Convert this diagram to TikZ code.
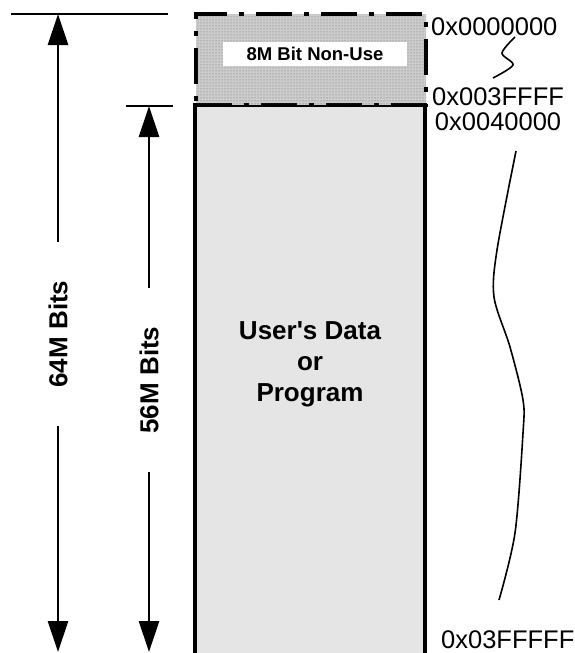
\documentclass[tikz,border=0pt]{standalone}
\usepackage{fontspec}
\setmainfont{Liberation Sans}
\usetikzlibrary{arrows.meta, positioning, patterns}

\begin{document}
\begin{tikzpicture}[
  x=1pt, y=-1pt,
  node distance=6pt,
  membox/.style={rectangle, draw=black, line width=3.5pt, fill=black!10, minimum width=230pt, inner sep=0pt},
  reserved/.style={rectangle, draw=black, line width=3.5pt, dash pattern=on 36pt off 12pt on 5pt off 12pt, fill=black!20, postaction={pattern=dots, pattern color=black!60}, minimum width=230pt, minimum height=91pt, inner sep=0pt},
  tag/.style={rectangle, fill=white, minimum width=184pt, minimum height=24pt, inner sep=0pt, font=\fontsize{18.5}{22}\selectfont\bfseries},
  bigtxt/.style={align=center, inner sep=0pt, font=\fontsize{26}{31}\selectfont\bfseries},
  sizelbl/.style={rotate=90, inner xsep=38.5pt, inner ysep=0pt, font=\fontsize{26}{30}\selectfont\bfseries},
  addr/.style={anchor=west, inner sep=0pt, font=\fontsize{25.5}{30}\selectfont},
  dim/.style={-{Triangle[width=20pt, length=31pt]}, line width=2.7pt},
  tick/.style={line width=2.7pt},
  wave/.style={line width=1.6pt}
]
\useasboundingbox (0,0) rectangle (574,653);

% memory blocks
\node[membox, minimum height=555pt] (user) at (310,382.5) {};
\node[reserved] (nonuse) at (311,59.5) {};
\node[tag] (nonusetag) at (315,54) {8M Bit Non-Use};
\node[bigtxt] (usertxt) at (310,364) {User\textquotesingle s Data\\or\\Program};

% size arrows
\draw[tick] (11,14) -- (168,14);
\draw[tick] (126,106) -- (173,106);
\coordinate (top64) at (58,14);
\coordinate (bot64) at (58,652);
\coordinate (top56) at (149,106);
\coordinate (bot56) at (149,652);
\node[sizelbl] (l64) at (58,334) {64M Bits};
\node[sizelbl] (l56) at (149,380) {56M Bits};
\draw[dim] (l64.east) -- (top64);
\draw[dim] (l64.west) -- (bot64);
\draw[dim] (l56.east) -- (top56);
\draw[dim] (l56.west) -- (bot56);

% addresses
\node[addr] (a0) at (431,27) {0x0000000};
\node[addr] (a1) at (432,97) {0x003FFFF};
\node[addr, below=of a1] (a2) {0x0040000};
\node[addr] (a3) at (441,640) {0x03FFFFF};
\draw[wave] plot[smooth] coordinates {(515,37) (502,53) (513,65) (493,78)};
\draw[wave] plot[smooth] coordinates {(516,151) (497,250) (494,297) (510,347) (523,400) (523,433) (515,533) (499,600)};
\end{tikzpicture}
\end{document}
